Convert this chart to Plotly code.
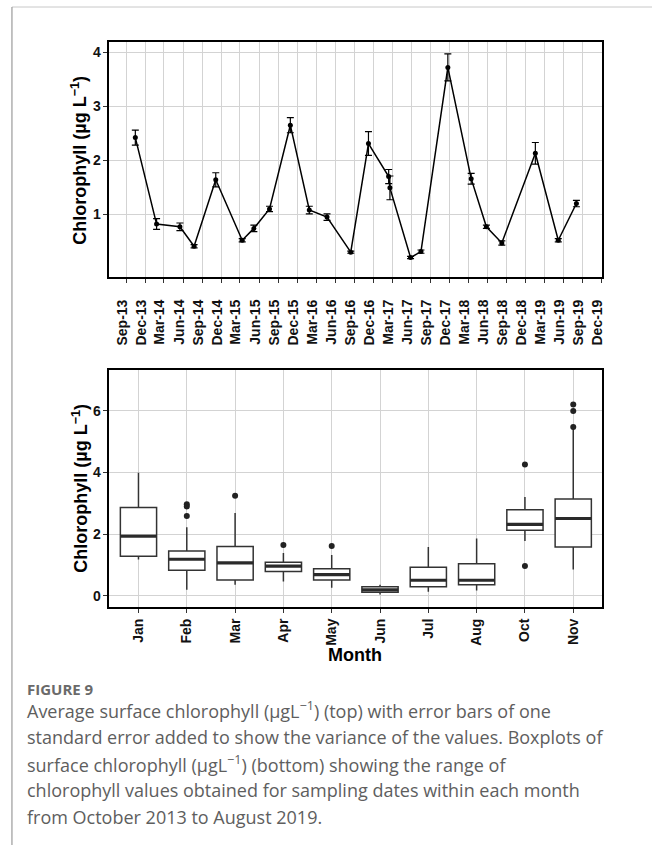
import plotly.graph_objects as go
import pandas as pd

# ---------------- data: top panel (mean chlorophyll with SE) ----------------
sample_dates = ["2013-10-15", "2014-01-25", "2014-05-17", "2014-07-24", "2014-11-05",
                "2015-03-12", "2015-05-07", "2015-07-21", "2015-10-29", "2016-01-28",
                "2016-04-22", "2016-08-14", "2016-11-07", "2017-02-12", "2017-02-18",
                "2017-05-28", "2017-07-17", "2017-11-23", "2018-03-15", "2018-05-27",
                "2018-08-09", "2019-01-17", "2019-05-07", "2019-08-02"]
mean_chl = [2.42, 0.82, 0.77, 0.41, 1.64, 0.52, 0.74, 1.10, 2.65, 1.08, 0.95, 0.30,
            2.31, 1.70, 1.49, 0.20, 0.31, 3.72, 1.66, 0.77, 0.47, 2.13, 0.52, 1.20]
se_chl = [0.14, 0.10, 0.07, 0.03, 0.13, 0.03, 0.06, 0.05, 0.14, 0.07, 0.06, 0.02,
          0.22, 0.13, 0.22, 0.02, 0.03, 0.25, 0.10, 0.03, 0.04, 0.20, 0.03, 0.06]
quarter_labels = ["Sep-13", "Dec-13", "Mar-14", "Jun-14", "Sep-14", "Dec-14", "Mar-15",
                  "Jun-15", "Sep-15", "Dec-15", "Mar-16", "Jun-16", "Sep-16", "Dec-16",
                  "Mar-17", "Jun-17", "Sep-17", "Dec-17", "Mar-18", "Jun-18", "Sep-18",
                  "Dec-18", "Mar-19", "Jun-19", "Sep-19", "Dec-19"]
top_yticks = [1, 2, 3, 4]

# ---------------- data: bottom panel (monthly boxplots) ----------------
months = ["Jan", "Feb", "Mar", "Apr", "May", "Jun", "Jul", "Aug", "Oct", "Nov"]
box_lower = [1.18, 0.20, 0.36, 0.47, 0.27, 0.05, 0.14, 0.18, 1.78, 0.86]
box_q1 = [1.29, 0.83, 0.52, 0.79, 0.52, 0.12, 0.30, 0.36, 2.13, 1.59]
box_median = [1.94, 1.19, 1.07, 0.97, 0.69, 0.20, 0.51, 0.51, 2.32, 2.51]
box_q3 = [2.87, 1.46, 1.60, 1.09, 0.88, 0.30, 0.93, 1.04, 2.79, 3.14]
box_upper = [3.99, 2.23, 2.69, 1.39, 1.33, 0.36, 1.59, 1.86, 3.21, 5.42]
outlier_month = ["Feb", "Feb", "Feb", "Mar", "Apr", "May", "Oct", "Oct", "Nov", "Nov", "Nov"]
outlier_value = [2.97, 2.90, 2.59, 3.25, 1.65, 1.62, 4.26, 0.97, 6.20, 5.99, 5.47]
bottom_yticks = [0, 2, 4, 6]

caption_lines = [
    "Average surface chlorophyll (µgL<sup>−1</sup>) (top) with error bars of one",
    "standard error added to show the variance of the values. Boxplots of",
    "surface chlorophyll (µgL<sup>−1</sup>) (bottom) showing the range of",
    "chlorophyll values obtained for sampling dates within each month",
    "from October 2013 to August 2019.",
]

# ---------------- figure ----------------
W, H = 655, 845
px = lambda v: v / W
py = lambda v: 1 - v / H

tick_dates = pd.to_datetime(quarter_labels, format="%b-%y")
month_pos = list(range(1, len(months) + 1))
pos_of = dict(zip(months, month_pos))
BOX_W = 0.75

fig = go.Figure()

fig.add_trace(go.Scatter(
    x=pd.to_datetime(sample_dates), y=mean_chl, mode="lines+markers",
    line=dict(color="black", width=1.5),
    marker=dict(color="black", size=5),
    error_y=dict(type="data", array=se_chl, color="black", thickness=1.2, width=3.5),
    xaxis="x", yaxis="y", showlegend=False, hoverinfo="skip"))

fig.add_trace(go.Box(
    x=month_pos, q1=box_q1, median=box_median, q3=box_q3,
    lowerfence=box_lower, upperfence=box_upper,
    fillcolor="white", line=dict(color="#333333", width=1.5),
    whiskerwidth=0, boxpoints=False, width=BOX_W,
    xaxis="x2", yaxis="y2", showlegend=False, hoverinfo="skip"))

fig.add_trace(go.Scatter(
    x=[pos_of[m] for m in outlier_month], y=outlier_value, mode="markers",
    marker=dict(color="#222222", size=6),
    xaxis="x2", yaxis="y2", showlegend=False, hoverinfo="skip"))

# thicker median bars (ggplot style)
shapes = []
half = BOX_W / 2
for p, m in zip(month_pos, box_median):
    shapes.append(dict(type="line", xref="x2", yref="y2", x0=p - half, x1=p + half,
                       y0=m, y1=m, line=dict(color="#2a2a2a", width=3.2), layer="above"))

# page frame lines
shapes.append(dict(type="line", xref="paper", yref="paper", x0=px(12), x1=1,
                   y0=py(7), y1=py(7), line=dict(color="#c8c8c8", width=1)))
shapes.append(dict(type="line", xref="paper", yref="paper", x0=px(12), x1=px(12),
                   y0=py(7), y1=0, line=dict(color="#9a9a9a", width=1.2)))

tickfont = dict(family="Liberation Sans, Arial", size=14, color="#111111", weight="bold")
common_axis = dict(showgrid=True, gridcolor="#d3d3d3", gridwidth=1, zeroline=False,
                   showline=True, mirror=True, linecolor="black", linewidth=2,
                   ticks="outside", ticklen=4, tickcolor="#333333", tickwidth=1,
                   tickfont=tickfont)

fig.update_layout(
    width=W, height=H, margin=dict(l=0, r=0, t=0, b=0),
    paper_bgcolor="white", plot_bgcolor="white",
    xaxis=dict(domain=[px(110), px(605)], anchor="y", type="date",
               range=["2013-06-13", "2019-12-04"],
               tickvals=tick_dates, ticktext=quarter_labels, tickangle=-90,
               ticklabelstandoff=11, ticklabelshift=-4,
               **common_axis),
    yaxis=dict(domain=[py(277), py(42)], anchor="x", range=[-0.16, 4.19],
               tickvals=top_yticks, ticktext=[str(t) for t in top_yticks],
               **common_axis),
    xaxis2=dict(domain=[px(110), px(605)], anchor="y2", range=[0.4, 10.6],
                tickvals=month_pos, ticktext=months, tickangle=-90,
                **common_axis),
    yaxis2=dict(domain=[py(607), py(370)], anchor="x2", range=[-0.357, 7.32],
                tickvals=bottom_yticks, ticktext=[str(t) for t in bottom_yticks],
                **common_axis),
    shapes=shapes,
)

title_font = dict(family="Liberation Sans, Arial", size=18, color="black", weight="bold")
ytitle = "Chlorophyll (µg L<sup>−1</sup>)"
annotations = [
    dict(x=px(80), y=py(160), xref="paper", yref="paper", text=ytitle, textangle=-90,
         showarrow=False, font=title_font, xanchor="center", yanchor="middle"),
    dict(x=px(80), y=py(488), xref="paper", yref="paper", text=ytitle, textangle=-90,
         showarrow=False, font=title_font, xanchor="center", yanchor="middle"),
    dict(x=px(357), y=py(655), xref="paper", yref="paper", text="Month",
         showarrow=False, font=title_font, xanchor="center", yanchor="middle"),
    dict(x=px(25), y=py(689), xref="paper", yref="paper", text="FIGURE 9",
         showarrow=False, xanchor="left", yanchor="middle",
         font=dict(family="Open Sans", size=15, color="#6a6a6a", weight="bold")),
]
cap_font = dict(family="Open Sans", size=18, color="#5e5e5e")
for i, line in enumerate(caption_lines):
    annotations.append(dict(x=px(25), y=py(710 + 26.8 * i), xref="paper", yref="paper",
                            text=line, showarrow=False, xanchor="left", yanchor="middle",
                            font=cap_font))
fig.update_layout(annotations=annotations)

fig.write_html("out.html")
